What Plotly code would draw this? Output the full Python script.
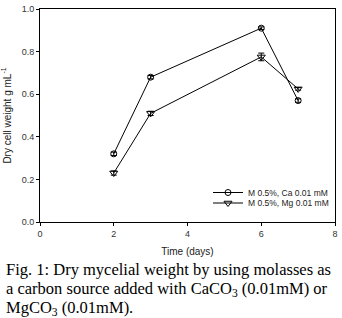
import plotly.graph_objects as go

days = [2, 3, 6, 7]
ca_values = [0.32, 0.68, 0.91, 0.57]
ca_err = [0.008, 0.008, 0.006, 0.008]
mg_values = [0.23, 0.51, 0.775, 0.625]
mg_err = [0.01, 0.01, 0.018, 0.006]
series_names = ["M 0.5%, Ca 0.01 mM", "M 0.5%, Mg 0.01 mM"]
x_ticks = [0, 2, 4, 6, 8]
y_ticks = [0.0, 0.2, 0.4, 0.6, 0.8, 1.0]
caption_lines = [
    "Fig. 1: Dry mycelial weight by using molasses as",
    "a carbon source added with CaCO<sub>3</sub> (0.01mM) or",
    "MgCO<sub>3</sub> (0.01mM).",
]

# plot area in pixels
L, R, T, B = 40, 335, 9, 222
PW, PH = R - L, B - T

fig = go.Figure()
fig.add_trace(go.Scatter(
    x=days, y=ca_values, name=series_names[0], mode="lines+markers", legend="legend",
    line=dict(color="black", width=1),
    marker=dict(symbol="circle-open", size=6, color="black", line=dict(width=1)),
    error_y=dict(type="data", array=ca_err, color="black", thickness=1, width=3),
))
fig.add_trace(go.Scatter(
    x=days, y=mg_values, name=series_names[1], mode="lines+markers", legend="legend2",
    line=dict(color="black", width=1),
    marker=dict(symbol="triangle-down-open", size=7, color="black", line=dict(width=1)),
    error_y=dict(type="data", array=mg_err, color="black", thickness=1, width=3),
))

axis_common = dict(
    showline=True, linecolor="black", linewidth=1, mirror=True,
    ticks="outside", ticklen=3, tickcolor="black", showgrid=False, zeroline=False,
    automargin=False,
    tickfont=dict(family="Liberation Sans, Arial", size=9, color="#333333"),
)
fig.update_xaxes(range=[0, 8], tickvals=x_ticks, ticktext=[str(v) for v in x_ticks],
                 title=dict(text="Time (days)", font=dict(family="Liberation Sans, Arial", size=10, color="#222222"), standoff=10),
                 **axis_common)
fig.update_yaxes(range=[0, 1.0], tickvals=y_ticks, ticktext=[f"{v:.1f}" for v in y_ticks],
                 title=dict(text="Dry cell weight g mL<sup>-1</sup>", font=dict(family="Liberation Sans, Arial", size=10, color="#222222"), standoff=8),
                 **axis_common)

for i, (line, yc) in enumerate(zip(caption_lines, [269, 288.5, 307.5])):
    fig.add_annotation(
        text=line, xref="paper", yref="paper", x=(4 - L) / PW, y=(B - yc) / PH,
        xanchor="left", yanchor="middle", showarrow=False, align="left",
        font=dict(family="Liberation Serif, Times New Roman", size=16.5, color="black"),
    )

legend_common = dict(
    xanchor="left", yanchor="middle", bgcolor="rgba(0,0,0,0)", borderwidth=0,
    font=dict(family="Liberation Sans, Arial", size=8.5, color="#222222"),
    itemwidth=30,
)
fig.update_layout(
    width=342, height=318,
    margin=dict(l=L, r=342 - R, t=T, b=318 - B, autoexpand=False),
    paper_bgcolor="white", plot_bgcolor="white",
    showlegend=True,
    legend=dict(x=(208 - L) / PW, y=(B - 192.5) / PH, **legend_common),
    legend2=dict(x=(208 - L) / PW, y=(B - 203) / PH, **legend_common),
)

fig.write_html("out.html", config={"displayModeBar": False},
               post_script="document.body.style.margin='0';")
